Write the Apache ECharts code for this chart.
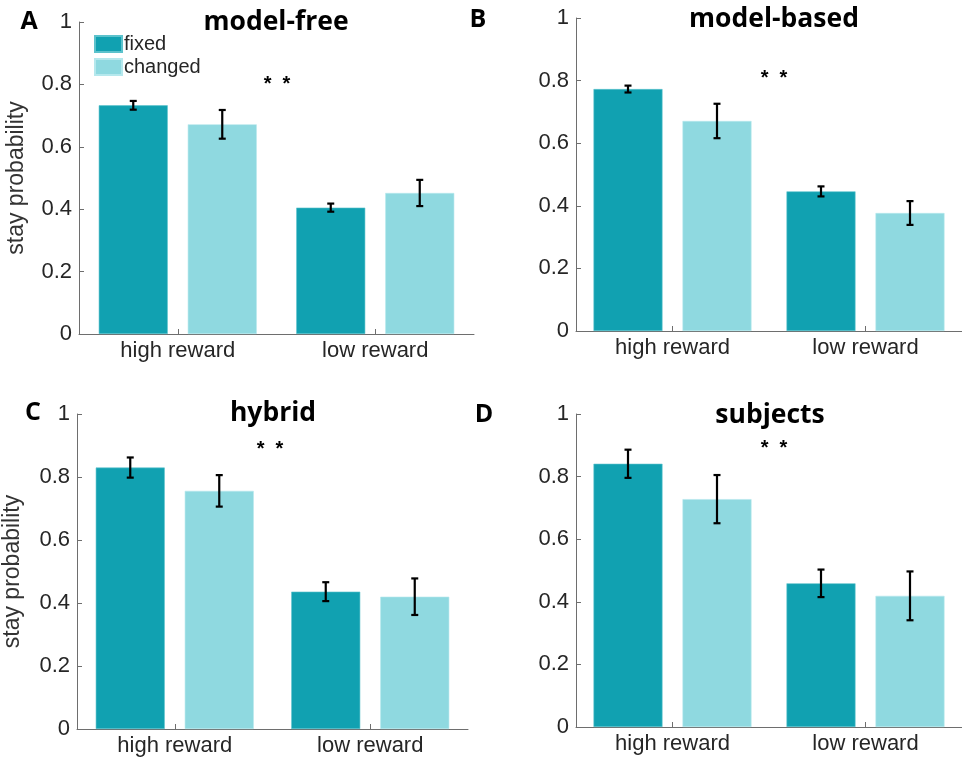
<!DOCTYPE html>
<html>
<head>
<meta charset="utf-8">
<script src="https://cdn.jsdelivr.net/npm/echarts@6/dist/echarts.min.js"></script>
<style>
html,body{margin:0;padding:0;background:#fff;}
#chart{width:962px;height:760px;}
</style>
</head>
<body>
<div id="chart"></div>
<script>
// ---- data ----
const categories = ['high reward', 'low reward'];
const panelTitles = ['model-free', 'model-based', 'hybrid', 'subjects'];
const panelLetters = ['A', 'B', 'C', 'D'];
const seriesNames = ['fixed', 'changed'];
const yTicks = [0, 0.2, 0.4, 0.6, 0.8, 1];
const significance = ['*  *', '*  *', '*  *', '*  *'];

const fixedModelFree = [0.733, 0.405];
const fixedModelFreeErr = [0.014, 0.013];
const changedModelFree = [0.672, 0.452];
const changedModelFreeErr = [0.046, 0.042];

const fixedModelBased = [0.773, 0.446];
const fixedModelBasedErr = [0.011, 0.016];
const changedModelBased = [0.671, 0.377];
const changedModelBasedErr = [0.055, 0.038];

const fixedHybrid = [0.830, 0.436];
const fixedHybridErr = [0.032, 0.030];
const changedHybrid = [0.756, 0.420];
const changedHybridErr = [0.050, 0.058];

const fixedSubjects = [0.841, 0.459];
const fixedSubjectsErr = [0.045, 0.044];
const changedSubjects = [0.728, 0.419];
const changedSubjectsErr = [0.077, 0.078];

// ---- layout / style ----
const panels = [
  {fixed: fixedModelFree, fixedErr: fixedModelFreeErr, changed: changedModelFree, changedErr: changedModelFreeErr},
  {fixed: fixedModelBased, fixedErr: fixedModelBasedErr, changed: changedModelBased, changedErr: changedModelBasedErr},
  {fixed: fixedHybrid, fixedErr: fixedHybridErr, changed: changedHybrid, changedErr: changedHybridErr},
  {fixed: fixedSubjects, fixedErr: fixedSubjectsErr, changed: changedSubjects, changedErr: changedSubjectsErr}
];
const grids = [
  {left: 79, top: 22, width: 395, height: 312},
  {left: 576, top: 18, width: 394, height: 313},
  {left: 71, top: 414, width: 397, height: 315},
  {left: 576, top: 414, width: 394, height: 313}
];
const titlePos = [[276, 9], [774, 6], [273, 400], [770, 402]];
const letterPos = [[29, 9], [478, 7], [33, 400], [484, 402]];
const starPos = [[277, 84], [774, 78], [270, 449], [774, 448]];
const showYName = [true, false, true, false];

const COL_FIXED = '#11a1b1';
const COL_CHANGED = '#8fd9e0';
const BAR_W = 69;
const BAR_GAP = 20;
const TEXT_COL = '#262626';
const AXIS_COL = '#6e6e6e';
const FONT = '"Liberation Sans", Arial, Helvetica, sans-serif';

function errRender(offset) {
  return function (params, api) {
    const c = api.value(0), v = api.value(1), e = api.value(2);
    const hi = api.coord([c, v + e]);
    const lo = api.coord([c, v - e]);
    const x = hi[0] + offset;
    const cap = 3.5;
    const st = {stroke: '#000', lineWidth: 2.2};
    return {
      type: 'group',
      children: [
        {type: 'line', shape: {x1: x, y1: hi[1], x2: x, y2: lo[1]}, style: st},
        {type: 'line', shape: {x1: x - cap, y1: hi[1], x2: x + cap, y2: hi[1]}, style: st},
        {type: 'line', shape: {x1: x - cap, y1: lo[1], x2: x + cap, y2: lo[1]}, style: st}
      ]
    };
  };
}

const option = {
  animation: false,
  backgroundColor: '#fff',
  grid: grids.map(g => Object.assign({containLabel: false}, g)),
  title: [],
  legend: {
    data: seriesNames,
    orient: 'vertical',
    left: 94, top: 34, padding: 0,
    itemWidth: 27, itemHeight: 16, itemGap: 3,
    icon: 'rect',
    textStyle: {fontSize: 20, color: TEXT_COL, fontFamily: FONT, padding: [0, 0, 0, -3]},
    selectedMode: false
  },
  xAxis: [], yAxis: [], series: [], graphic: []
};

panels.forEach((p, i) => {
  option.title.push({
    text: panelTitles[i], left: titlePos[i][0], top: titlePos[i][1], textAlign: 'center', padding: 0,
    textStyle: {fontFamily: '"Open Sans", sans-serif', fontWeight: 'bold', fontSize: 26.5, color: '#000'}
  });
  option.title.push({
    text: panelLetters[i], left: letterPos[i][0], top: letterPos[i][1], textAlign: 'center', padding: 0,
    textStyle: {fontFamily: '"Open Sans", sans-serif', fontWeight: 'bold', fontSize: 25, color: '#000'}
  });
  option.xAxis.push({
    type: 'category', gridIndex: i, data: categories,
    axisLine: {lineStyle: {color: AXIS_COL, width: 1}},
    axisTick: {show: true, alignWithLabel: true, inside: true, length: 5, lineStyle: {color: AXIS_COL}},
    axisLabel: {color: TEXT_COL, fontSize: 22, fontFamily: FONT, margin: 6},
    splitLine: {show: false}
  });
  option.yAxis.push({
    type: 'value', gridIndex: i, min: 0, max: 1, interval: 0.2,
    name: showYName[i] ? 'stay probability' : '',
    nameLocation: 'middle', nameGap: i === 0 ? 51 : 53, nameRotate: 90,
    nameTextStyle: {color: '#333', fontSize: 23, fontFamily: FONT},
    axisLine: {show: true, lineStyle: {color: AXIS_COL, width: 1}},
    axisTick: {show: true, inside: true, length: 5, lineStyle: {color: AXIS_COL}},
    axisLabel: {color: TEXT_COL, fontSize: 22, fontFamily: FONT, margin: 7,
      formatter: v => (yTicks.indexOf(Math.round(v * 10) / 10) >= 0 ? String(Math.round(v * 10) / 10) : '')},
    splitLine: {show: false}
  });
  const off = (BAR_W + BAR_GAP) / 2;
  option.series.push({
    name: seriesNames[0], type: 'bar', xAxisIndex: i, yAxisIndex: i, data: p.fixed,
    barWidth: BAR_W, barGap: (BAR_GAP / BAR_W * 100) + '%',
    itemStyle: {color: COL_FIXED, borderColor: '#5cc2cc', borderWidth: 0.6}
  });
  option.series.push({
    name: seriesNames[1], type: 'bar', xAxisIndex: i, yAxisIndex: i, data: p.changed,
    barWidth: BAR_W, barGap: (BAR_GAP / BAR_W * 100) + '%',
    itemStyle: {color: COL_CHANGED, borderColor: '#b5e8ed', borderWidth: 0.6}
  });
  option.series.push({
    type: 'custom', xAxisIndex: i, yAxisIndex: i, z: 5,
    renderItem: errRender(-off), encode: {x: 0, y: 1},
    data: p.fixed.map((v, k) => [k, v, p.fixedErr[k]])
  });
  option.series.push({
    type: 'custom', xAxisIndex: i, yAxisIndex: i, z: 5,
    renderItem: errRender(off), encode: {x: 0, y: 1},
    data: p.changed.map((v, k) => [k, v, p.changedErr[k]])
  });
  option.graphic.push({
    type: 'text', x: starPos[i][0], y: starPos[i][1],
    style: {text: significance[i], fill: '#000', font: 'bold 20px ' + FONT,
      textAlign: 'center', textVerticalAlign: 'middle'}
  });
});

const chart = echarts.init(document.getElementById('chart'), null, {renderer: 'canvas'});
chart.setOption(option);
</script>
</body>
</html>
